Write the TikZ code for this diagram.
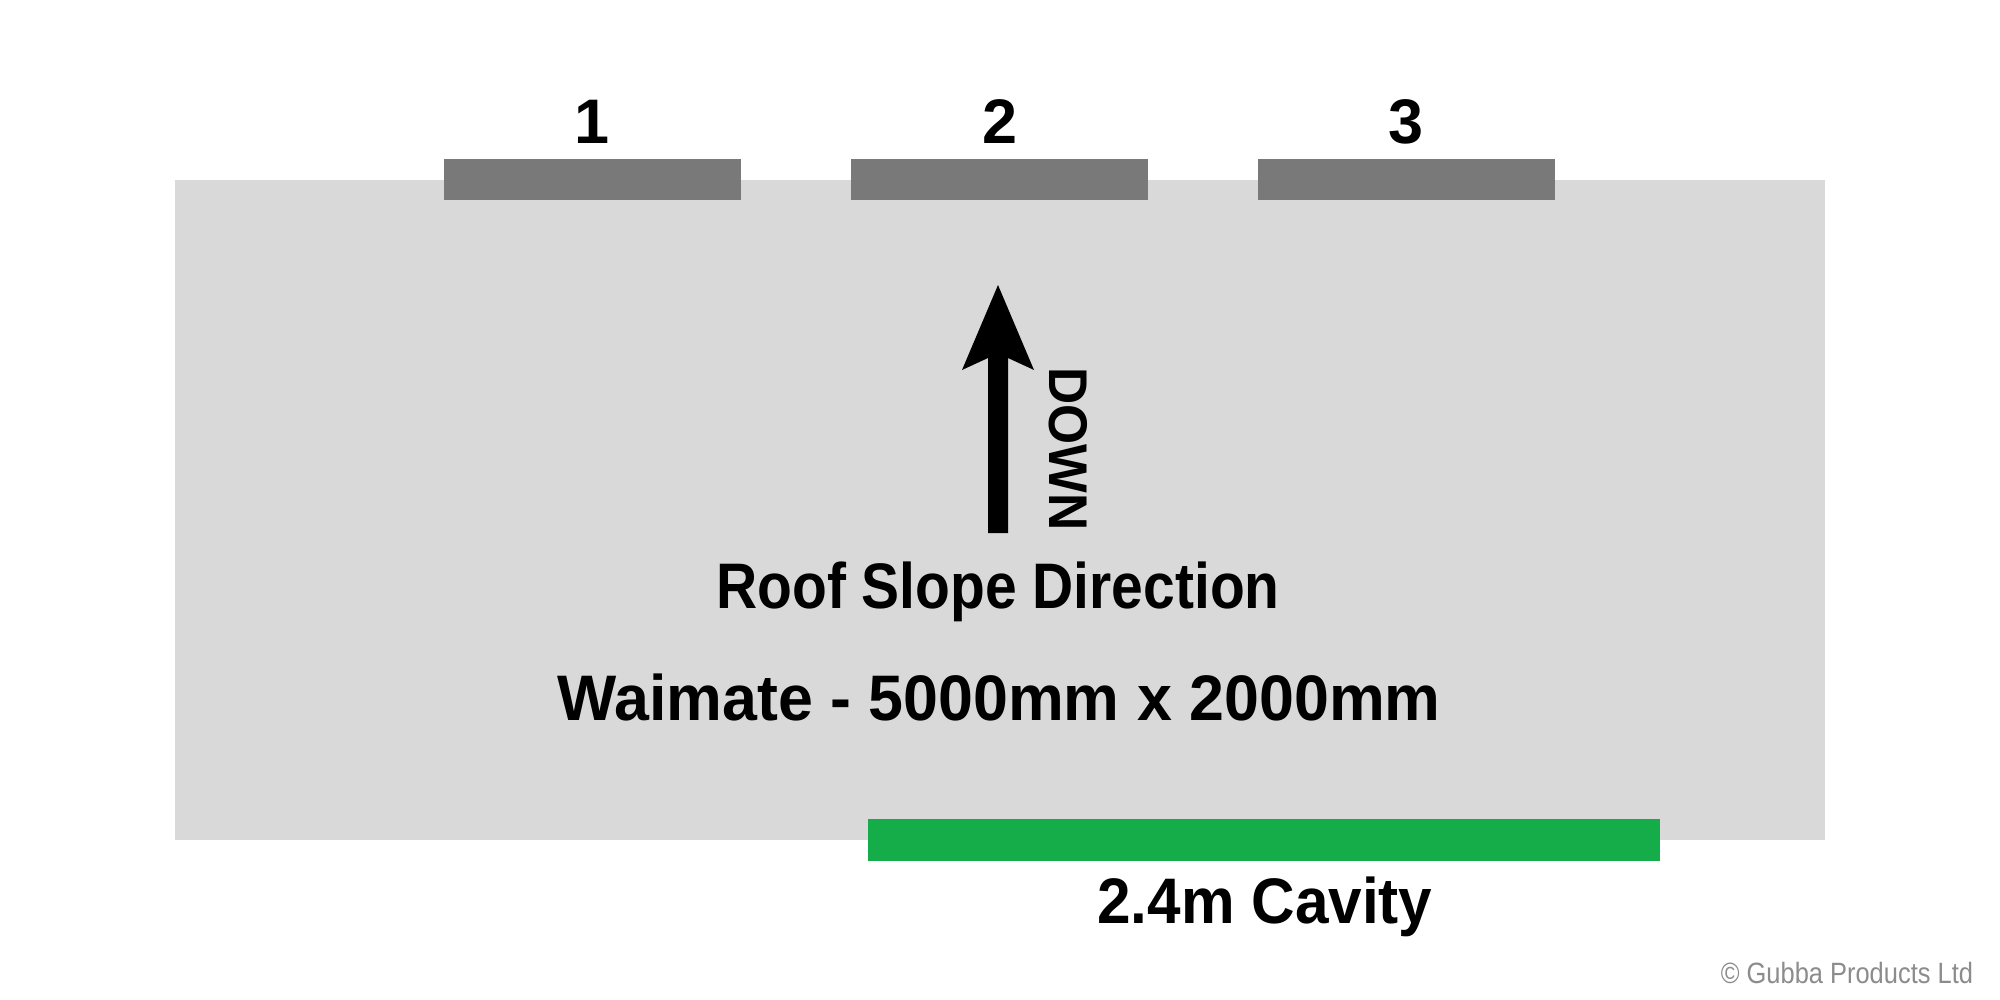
\documentclass[tikz,border=0pt]{standalone}
\usepackage{fontspec}
\usepackage{graphicx}
\setmainfont{Liberation Sans}
\definecolor{panel}{HTML}{D9D9D9}
\definecolor{bar}{HTML}{797979}
\definecolor{cavity}{HTML}{14AD4A}
\definecolor{copy}{HTML}{8C8C8C}
\newcommand\fitw[2]{\resizebox{#1}{\height}{#2}}
\begin{document}
\begin{tikzpicture}[x=0.01cm,y=-0.01cm,
  every node/.style={inner sep=0pt,outer sep=0pt},
  barbox/.style={fill=bar,draw=none},
  numlabel/.style={anchor=base,font=\fontsize{17.9}{20}\selectfont\bfseries},
  bigtext/.style={anchor=base,font=\fontsize{18.3}{22}\selectfont\bfseries}]
\useasboundingbox (0,0) rectangle (2000,1000);
\fill[white] (0,0) rectangle (2000,1000);
% panel
\fill[panel] (175,180) rectangle (1825,840);
% bars
\fill[barbox] (444,159) rectangle (741,200);
\fill[barbox] (851,159) rectangle (1148,200);
\fill[barbox] (1258,159) rectangle (1555,200);
\node[numlabel] (n1) at (592,143) {1};
\node[numlabel] (n2) at (1000,143) {2};
\node[numlabel] (n3) at (1406,143) {3};
% arrow
\fill[black] (988,533) -- (988,358) -- (962,370) -- (998,285) -- (1034,370) -- (1008,358) -- (1008,533) -- cycle;
\node[rotate=-90,font=\fontsize{15.5}{18}\selectfont\bfseries] (down) at (1068,449) {\fitw{46.4pt}{DOWN}};
% texts
\node[bigtext] (slope) at (998,608) {\fitw{160.2pt}{Roof Slope Direction}};
\node[bigtext] (size) at (999,720) {\fitw{251.2pt}{Waimate - 5000mm x 2000mm}};
% cavity
\fill[cavity] (868,819) rectangle (1660,861);
\node[bigtext] (cav) at (1265,923) {\fitw{95.3pt}{2.4m Cavity}};
% copyright
\node[anchor=base east,text=copy,font=\fontsize{8.35}{10}\selectfont] (copyr) at (1973,983) {\fitw{71.7pt}{© Gubba Products Ltd}};
\end{tikzpicture}
\end{document}
